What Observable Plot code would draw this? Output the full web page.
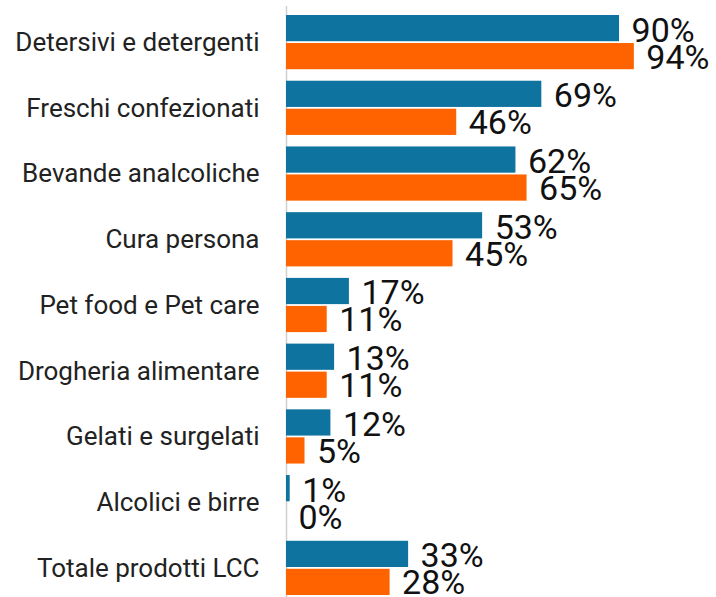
<!DOCTYPE html>
<html>
<head>
<meta charset="utf-8">
<script src="https://cdn.jsdelivr.net/npm/d3@7"></script>
<script src="https://cdn.jsdelivr.net/npm/@observablehq/plot@0.6"></script>
<style>
  html, body { margin: 0; padding: 0; background: #fff; }
  #chart svg { display: block; }
</style>
</head>
<body>
<div id="chart"></div>
<script>
const categories = [
  "Detersivi e detergenti",
  "Freschi confezionati",
  "Bevande analcoliche",
  "Cura persona",
  "Pet food e Pet care",
  "Drogheria alimentare",
  "Gelati e surgelati",
  "Alcolici e birre",
  "Totale prodotti LCC"
];
const blueValues = [90, 69, 62, 53, 17, 13, 12, 1, 33];
const orangeValues = [94, 46, 65, 45, 11, 11, 5, 0, 28];

const blueData = categories.map((c, i) => ({cat: c, value: blueValues[i]}));
const orangeData = categories.map((c, i) => ({cat: c, value: orangeValues[i]}));

const labelFont = "Roboto, 'DejaVu Sans', sans-serif";

const chart = Plot.plot({
  width: 716,
  height: 597,
  marginLeft: 286,
  marginRight: 0,
  marginTop: 15,
  marginBottom: 2,
  style: {fontFamily: labelFont, fontSize: "26px", color: "#222", background: "#fff"},
  x: {domain: [0, 116.2], axis: null},
  y: {domain: categories, paddingInner: 0.175, paddingOuter: 0, round: false, label: null, tickSize: 0, tickPadding: 27},
  marks: [
    Plot.ruleX([0], {stroke: "#d0d0d0", strokeWidth: 1.5, insetTop: -9, insetBottom: -2}),
    Plot.barX(blueData, {x: "value", y: "cat", fill: "#0f73a0", insetBottom: 28}),
    Plot.barX(orangeData, {x: "value", y: "cat", fill: "#ff6300", insetTop: 28}),
    Plot.text(blueData, {x: "value", y: "cat", text: d => d.value + "%", dx: 12, dy: -12, textAnchor: "start", fontSize: 34, fill: "#111"}),
    Plot.text(orangeData, {x: "value", y: "cat", text: d => d.value + "%", dx: 12, dy: 15, textAnchor: "start", fontSize: 34, fill: "#111"})
  ]
});
document.getElementById("chart").appendChild(chart);
</script>
</body>
</html>
